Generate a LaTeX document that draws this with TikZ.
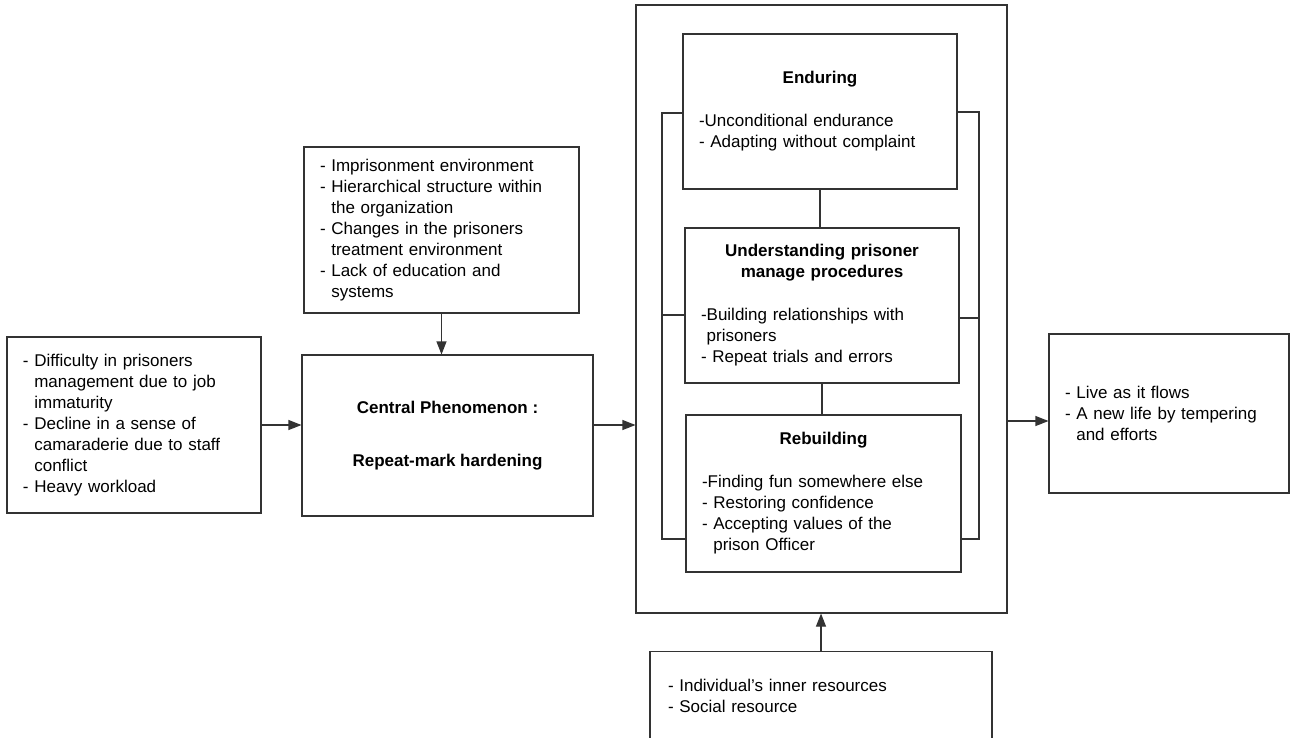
\documentclass[tikz,border=0pt]{standalone}
\usepackage{fontspec}
\setmainfont{Liberation Sans}
\usetikzlibrary{arrows.meta}

\newcommand{\ind}{\hphantom{- }}
\newcommand{\ttl}[1]{\makebox[\hsize][c]{\bfseries #1}}

\begin{document}
\begin{tikzpicture}[x=1pt,y=-1pt,
  box/.style={rectangle,draw=black!80,line width=1.1pt,align=left,inner xsep=16pt,inner ysep=0pt,
    font=\fontsize{17pt}{21pt}\selectfont},
  arr/.style={-{Triangle[length=13pt,width=10pt]},line width=1.1pt,draw=black!80},
  lnk/.style={line width=1.1pt,draw=black!80}
]
\useasboundingbox (0,0) rectangle (1291,737);
\clip (0,0) rectangle (1291,737);

% conditions
\node[box,minimum width=254pt,minimum height=176pt,text width=222pt] (cause) at (134,425)
  {- Difficulty in prisoners\\\ind management due to job\\\ind immaturity\\- Decline in a sense of\\\ind camaraderie due to staff\\\ind conflict\\- Heavy workload};
\node[box,minimum width=275pt,minimum height=166pt,text width=243pt] (context) at (441.5,230)
  {- Imprisonment environment\\- Hierarchical structure within\\\ind the organization\\- Changes in the prisoners\\\ind treatment environment\\- Lack of education and\\\ind systems};
\node[box,align=center,minimum width=291pt,minimum height=161pt,font=\fontsize{17pt}{21pt}\selectfont\bfseries] (central) at (447.5,435.5)
  {Central Phenomenon :\\[32pt]Repeat-mark hardening};

% strategies
\node[box,minimum width=371pt,minimum height=608pt] (strategy) at (821.5,309) {};
\node[box,minimum width=274pt,minimum height=155pt,text width=242pt] (enduring) at (820,111.5)
  {\ttl{Enduring}\\[22pt]-Unconditional endurance\\- Adapting without complaint};
\node[box,minimum width=274pt,minimum height=155pt,text width=242pt] (understand) at (822,305.5)
  {\ttl{Understanding prisoner}\\\ttl{manage procedures}\\[22pt]-Building relationships with\\\hphantom{-}prisoners\\- Repeat trials and errors};
\node[box,minimum width=275pt,minimum height=157pt,text width=243pt] (rebuild) at (823.5,493.5)
  {\ttl{Rebuilding}\\[22pt]-Finding fun somewhere else\\- Restoring confidence\\- Accepting values of the\\\ind prison Officer};

% consequences and resources
\node[box,minimum width=240pt,minimum height=159pt,text width=208pt] (result) at (1169,413.5)
  {- Live as it flows\\- A new life by tempering\\\ind and efforts};
\node[box,anchor=north,inner xsep=18pt,inner ysep=28pt,minimum width=342pt,text width=306pt] (support) at (821,651)
  {- Individual's inner resources\\- Social resource\\[80pt]\mbox{}};

\coordinate (resin) at ([yshift=-7.5pt]result.west);

\draw[arr] (cause.east) -- (cause.east -| central.west);
\draw[arr] (context.south) -- (context.south |- central.north);
\draw[arr] (central.east |- cause.east) -- (strategy.west |- cause.east);
\draw[arr] (strategy.east |- resin) -- (resin);
\draw[arr] (support.north) -- (support.north |- strategy.south);

\draw[lnk] (enduring.south) -- (enduring.south |- understand.north);
\draw[lnk] (understand.south) -- (understand.south |- rebuild.north);
\draw[lnk] (enduring.west |- 0,113) -- (662,113) -- (662,539) -- (rebuild.west |- 0,539);
\draw[lnk] (662,315) -- (understand.west |- 0,315);
\draw[lnk] (enduring.east |- 0,112) -- (979,112) -- (979,539) -- (rebuild.east |- 0,539);
\draw[lnk] (979,318) -- (understand.east |- 0,318);
\end{tikzpicture}
\end{document}
